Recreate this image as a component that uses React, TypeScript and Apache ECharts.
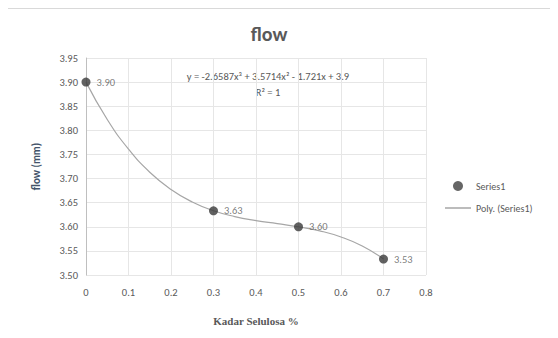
import React, { useEffect, useRef } from "react";
import * as echarts from "echarts";

const kadar = [0, 0.3, 0.5, 0.7];
const flowValues = [3.9, 3.633, 3.6, 3.533];
const flowLabels = ["3.90", "3.63", "3.60", "3.53"];
// trendline values (Poly. (Series1))
const trendX = [0, 0.05, 0.1, 0.15, 0.2, 0.25, 0.3, 0.35, 0.4, 0.45, 0.5, 0.55, 0.6, 0.65, 0.7];
const trendY = [3.9, 3.8225, 3.761, 3.7132, 3.6774, 3.6514, 3.6333, 3.6212, 3.6129, 3.6065, 3.6, 3.5915, 3.5788, 3.5601, 3.5334];
const equation = "y = -2.6587x³ + 3.5714x² - 1.721x + 3.9";
const rSquared = "R² = 1";

export default function App() {
  const ref = useRef<HTMLDivElement>(null);
  useEffect(() => {
    if (!ref.current) return;
    const chart = echarts.init(ref.current, null, { renderer: "svg" });
    const font = "Calibri, Carlito, 'Liberation Sans', Arial, sans-serif";
    chart.setOption({
      animation: false,
      backgroundColor: "#ffffff",
      textStyle: { fontFamily: font },
      title: {
        text: "flow",
        left: 264,
        top: 19,
        textAlign: "center",
        textStyle: { fontSize: 20, fontWeight: "bold", color: "#595959", fontFamily: font },
      },
      grid: { left: 86, right: 132, top: 58, bottom: 63 },
      xAxis: {
        type: "value",
        min: 0,
        max: 0.8,
        interval: 0.1,
        name: "Kadar Selulosa %",
        nameLocation: "middle",
        nameGap: 40,
        nameTextStyle: { fontSize: 11, fontWeight: "bold", color: "#595959", fontFamily: "'Liberation Serif', 'DejaVu Serif', serif" },
        axisLine: { show: false },
        axisTick: { show: false },
        axisLabel: {
          fontSize: 10.5,
          color: "#595959",
          margin: 12,
          formatter: (v: number) => (v === 0 ? "0" : String(Math.round(v * 10) / 10)),
        },
        splitLine: { show: true, lineStyle: { color: "#e6e6e6", width: 1 } },
      },
      yAxis: {
        type: "value",
        min: 3.5,
        max: 3.95,
        interval: 0.05,
        name: "flow (mm)",
        nameLocation: "middle",
        nameGap: 44,
        nameTextStyle: { fontSize: 11, fontWeight: "bold", color: "#44546a" },
        axisLine: { show: true, lineStyle: { color: "#bfbfbf" } },
        axisTick: { show: false },
        axisLabel: { fontSize: 10.5, color: "#595959", margin: 8, formatter: (v: number) => v.toFixed(2) },
        splitLine: { show: true, lineStyle: { color: "#e6e6e6", width: 1 } },
      },
      legend: {
        orient: "vertical",
        left: 440,
        top: 176,
        itemGap: 12,
        itemWidth: 26,
        itemHeight: 10,
        textStyle: { fontSize: 10, color: "#595959" },
        data: [
          { name: "Series1", icon: "circle", itemStyle: { color: "#404040" } },
          { name: "Poly. (Series1)", icon: "path://M0,0L26,0L26,1.5L0,1.5Z", itemStyle: { color: "#a6a6a6" } },
        ],
      },
      graphic: [
        {
          type: "text",
          style: { text: equation, x: 268, y: 71, align: "center", fontSize: 10.5, fill: "#595959", fontFamily: font },
        },
        {
          type: "text",
          style: { text: rSquared, x: 268, y: 87, align: "center", fontSize: 10.5, fill: "#595959", fontFamily: font },
        },
        {
          type: "rect",
          shape: { x: 6.5, y: 8.5, width: 549, height: 322 },
          style: { fill: "none", stroke: "#d9d9d9", lineWidth: 1 },
          silent: true,
        },
      ],
      series: [
        {
          name: "Poly. (Series1)",
          type: "line",
          data: trendX.map((x, i) => [x, trendY[i]]),
          smooth: true,
          showSymbol: false,
          symbol: "none",
          lineStyle: { color: "#a6a6a6", width: 1.2 },
          z: 2,
        },
        {
          name: "Series1",
          type: "scatter",
          data: kadar.map((x, i) => [x, flowValues[i]]),
          symbol: "circle",
          symbolSize: 9,
          itemStyle: { color: "#3a3a3a" },
          label: {
            show: true,
            position: "right",
            distance: 6,
            fontSize: 10.5,
            color: "#595959",
            formatter: (p: any) => flowLabels[p.dataIndex],
          },
          z: 3,
        },
      ],
    });
    return () => chart.dispose();
  }, []);
  return <div ref={ref} style={{ width: 558, height: 338, margin: -8 }} />;
}
